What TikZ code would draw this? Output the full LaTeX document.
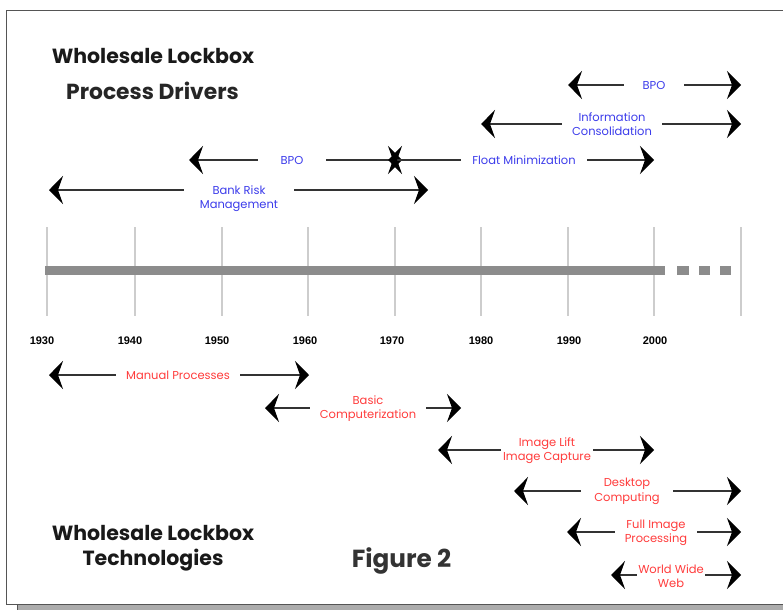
\documentclass[tikz,border=0pt]{standalone}
\usepackage{fontspec}
\setmainfont{Poppins}
\newfontfamily\yearfont{Liberation Sans}
\usetikzlibrary{arrows.meta}
\definecolor{drvblue}{RGB}{60,60,235}
\definecolor{techred}{RGB}{255,60,60}
\definecolor{framegray}{RGB}{85,85,85}
\definecolor{bargray}{RGB}{140,140,140}
\definecolor{tickgray}{RGB}{205,205,205}
\definecolor{headink}{RGB}{25,25,25}
\tikzset{
  tip/.tip={Stealth[length=14pt,width=28pt,inset=5pt,color=black]},
  span/.style={draw=black!80, line width=1.3pt, tip-tip},
  drvlabel/.style={fill=white, text=drvblue, font=\fontsize{11.5}{14}\selectfont,
    align=center, inner xsep=10pt, inner ysep=0pt},
  techlabel/.style={fill=white, text=techred, font=\fontsize{11.5}{14.5}\selectfont,
    align=center, inner xsep=10pt, inner ysep=0pt},
  yearlabel/.style={font=\yearfont\bfseries\fontsize{11}{12}\selectfont, text=black},
  heading/.style={font=\bfseries\fontsize{20.5}{25}\selectfont, text=headink, align=center},
}
\begin{document}
\begin{tikzpicture}[x=1pt,y=-1pt]
\useasboundingbox (0,0) rectangle (783,610);

% page frame with drop shadow
\fill[gray!65] (17,605) rectangle (783,610);
\draw[framegray, line width=1pt] (17,605) -- (17,610);
\draw[framegray, line width=1.6pt] (790,10.5) -- (6.5,10.5) -- (6.5,604.5) -- (790,604.5);

% headings
\node[heading] (hdrv1) at (153,56) {Wholesale Lockbox};
\node[heading, font=\bfseries\fontsize{21.8}{25}\selectfont, text=black!85] (hdrv2) at (152.5,91) {Process Drivers};
\node[heading] (htech) at (153,548) {Wholesale Lockbox\\Technologies};
\node[heading, font=\bfseries\fontsize{24.7}{28}\selectfont, text=black!80] (fig) at (401.5,561) {Figure 2};

% timeline: decade ticks
\foreach \yr/\x in {1930/47,1940/135,1950/222,1960/308,1970/395,1980/481,1990/568,2000/654,2010/741}{
  \coordinate (t\yr a) at (\x,227);
  \coordinate (t\yr b) at (\x,316);
  \draw[tickgray, line width=1.2pt] (t\yr a) -- (t\yr b);
}
% timeline bar and its dotted continuation
\coordinate (bar0) at (45,270);
\coordinate (bar1) at (665,270);
\draw[bargray, line width=9pt] (bar0) -- (bar1);
\foreach \a/\b in {677/689,699/710,720/731}{
  \fill[bargray] (\a,265.5) rectangle (\b,274.5);
}
% year labels
\foreach \yr/\x in {1930/42,1940/130,1950/217,1960/305,1970/392,1980/481,1990/569,2000/655}{
  \node[yearlabel] (y\yr) at (\x,341) {\yr};
}

% process drivers
\coordinate (d1a) at (568,85);  \coordinate (d1b) at (741,85);
\coordinate (d2a) at (481,124); \coordinate (d2b) at (741,124);
\coordinate (d3a) at (189,160); \coordinate (d3b) at (402,160);
\coordinate (d4a) at (388,160); \coordinate (d4b) at (654,160);
\coordinate (d5a) at (49,190);  \coordinate (d5b) at (428,190);
\draw[span] (d1a) -- (d1b);
\draw[span] (d2a) -- (d2b);
\draw[span] (d3a) -- (d3b);
\draw[span] (d4a) -- (d4b);
\draw[span] (d5a) -- (d5b);
\node[drvlabel, inner xsep=19pt] (l1) at (654,85) {BPO};
\node[drvlabel] (l2) at (612,124) {Information\\Consolidation};
\node[drvlabel, inner xsep=23pt] (l3) at (292,160) {BPO};
\node[drvlabel, inner xsep=11pt] (l4) at (524,160) {Float Minimization};
\node[drvlabel, inner xsep=16pt] (l5) at (239,198.5) {Bank Risk\\Management};

% technologies
\coordinate (k1a) at (49,375);  \coordinate (k1b) at (309,375);
\coordinate (k2a) at (265,408); \coordinate (k2b) at (461,408);
\coordinate (k3a) at (438,450); \coordinate (k3b) at (654,450);
\coordinate (k4a) at (514,491); \coordinate (k4b) at (741,491);
\coordinate (k5a) at (567,532); \coordinate (k5b) at (741,532);
\coordinate (k6a) at (611,575); \coordinate (k6b) at (741,575);
\draw[span] (k1a) -- (k1b);
\draw[span] (k2a) -- (k2b);
\draw[span] (k3a) -- (k3b);
\draw[span] (k4a) -- (k4b);
\draw[span] (k5a) -- (k5b);
\draw[span] (k6a) -- (k6b);
\node[techlabel] (m1) at (178,375) {Manual Processes};
\node[techlabel] (m2) at (368,408.5) {Basic\\Computerization};
\node[techlabel, inner xsep=2pt] (m3) at (547,450.5) {Image Lift\\Image Capture};
\node[techlabel, inner xsep=13pt] (m4) at (627,491.5) {Desktop\\Computing};
\node[techlabel, inner xsep=10pt] (m5) at (656,533) {Full Image\\Processing};
\node[techlabel, inner xsep=1pt] (m6) at (671,576) {World Wide\\Web};
\end{tikzpicture}
\end{document}
